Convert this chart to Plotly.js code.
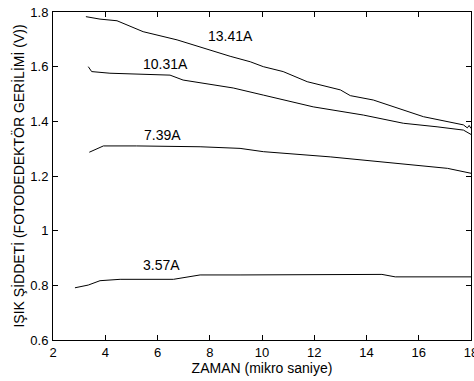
<!DOCTYPE html>
<html>
<head>
<meta charset="utf-8">
<script src="https://cdn.plot.ly/plotly-3.0.1.min.js"></script>
<style>html,body{margin:0;padding:0;background:#fff;}#chart{width:474px;height:381px;}</style>
</head>
<body>
<div id="chart"></div>
<script>
// 13.41A series
const x1341 = [3.26, 3.8, 4.45, 5.45, 6.75, 7.9, 8.78, 9.55, 10.05, 10.81, 11.73, 13.0, 13.38, 14.26, 15.18, 16.18, 17.71, 17.86, 17.93, 18.0];
const y1341 = [1.783, 1.774, 1.768, 1.728, 1.698, 1.663, 1.638, 1.618, 1.600, 1.582, 1.545, 1.515, 1.494, 1.478, 1.448, 1.417, 1.387, 1.376, 1.385, 1.374];
// 10.31A series
const x1031 = [3.35, 3.48, 4.18, 5.45, 6.48, 6.98, 8.13, 8.9, 10.05, 11.96, 13.88, 15.41, 16.7, 17.71, 18.0];
const y1031 = [1.600, 1.582, 1.576, 1.573, 1.569, 1.551, 1.533, 1.522, 1.496, 1.453, 1.423, 1.393, 1.380, 1.368, 1.352];
// 7.39A series
const x739 = [3.39, 3.93, 5.2, 7.63, 9.16, 10.05, 12.61, 13.88, 15.18, 17.1, 18.0];
const y739 = [1.287, 1.310, 1.310, 1.307, 1.301, 1.289, 1.270, 1.258, 1.246, 1.228, 1.210];
// 3.57A series
const x357 = [2.84, 3.35, 3.8, 4.57, 6.61, 7.63, 9.16, 14.59, 15.1, 18.0];
const y357 = [0.791, 0.801, 0.817, 0.822, 0.822, 0.838, 0.838, 0.840, 0.831, 0.831];
// curve labels
const labelText = ["13.41A", "10.31A", "7.39A", "3.57A"];
const labelX = [8.81, 6.31, 6.19, 6.17];
const labelY = [1.712, 1.609, 1.35, 0.874];
const xTicks = [2, 4, 6, 8, 10, 12, 14, 16, 18];
const yTicks = [0.6, 0.8, 1, 1.2, 1.4, 1.6, 1.8];
const yTickText = ["0.6", "0.8", "1", "1.2", "1.4", "1.6", "1.8"];

const FONT = "Liberation Sans, Arial, sans-serif";
const lineStyle = {color: "#000", width: 1};
const series = [[x1341, y1341], [x1031, y1031], [x739, y739], [x357, y357]];
const data = series.map(s => ({x: s[0], y: s[1], mode: "lines", type: "scatter", line: lineStyle, hoverinfo: "skip", showlegend: false}));

const annotations = labelText.map((t, i) => ({
  x: labelX[i], y: labelY[i], xref: "x", yref: "y", text: t, showarrow: false,
  font: {family: FONT, size: 14, color: "#000"}
}));

const axisCommon = {
  showgrid: false, zeroline: false, showline: true, linecolor: "#000", linewidth: 1,
  mirror: "allticks", ticks: "inside", ticklen: 5, tickwidth: 1, tickcolor: "#000",
  ticklabeloverflow: "allow",
  tickfont: {family: FONT, size: 13, color: "#000"}
};

const layout = {
  width: 474, height: 381,
  margin: {l: 53, r: 3, t: 12, b: 41},
  paper_bgcolor: "#fff", plot_bgcolor: "#fff",
  font: {family: FONT, size: 13, color: "#000"},
  xaxis: Object.assign({}, axisCommon, {
    range: [2, 18], tickvals: xTicks, ticklabelstandoff: 0,
    title: {text: "ZAMAN (mikro saniye)", standoff: 0, font: {size: 14}}
  }),
  yaxis: Object.assign({}, axisCommon, {
    range: [0.6, 1.8], tickvals: yTicks, ticktext: yTickText, ticklabelstandoff: 1,
    title: {text: "IŞIK ŞİDDETİ (FOTODEDEKTÖR GERİLİMİ (V))", standoff: 2, font: {size: 14}}
  }),
  annotations: annotations
};

Plotly.newPlot("chart", data, layout, {staticPlot: true, displayModeBar: false});
</script>
</body>
</html>
